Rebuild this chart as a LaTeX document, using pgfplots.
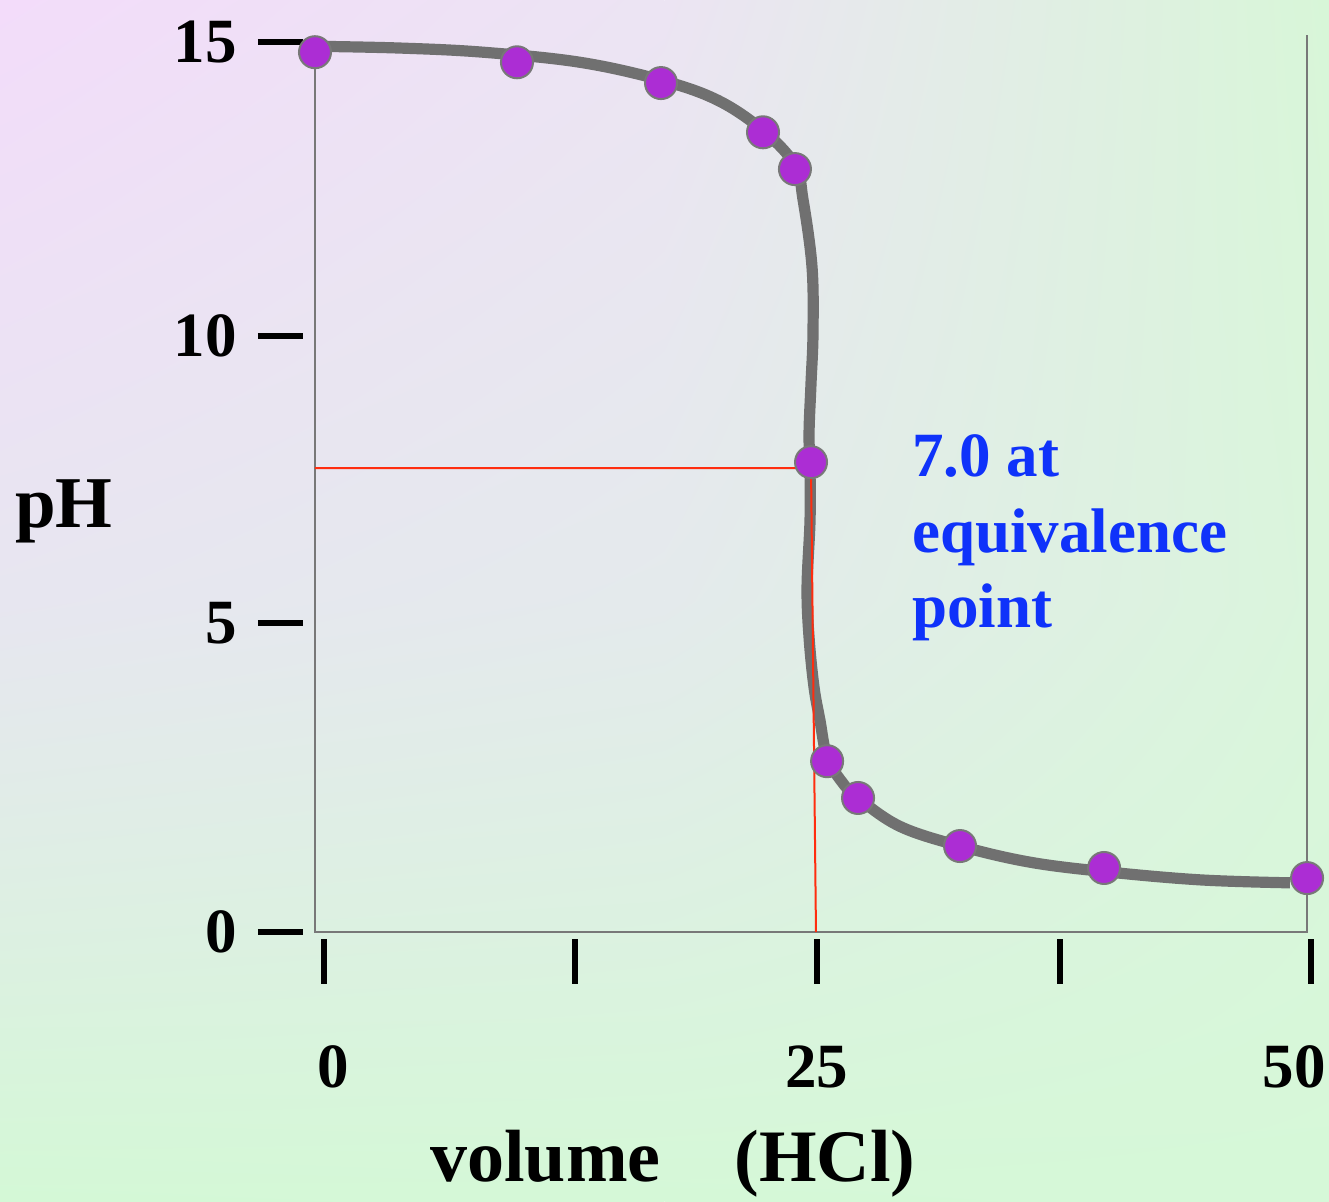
\documentclass[border=0pt]{standalone}
\usepackage{pgfplots}
\pgfplotsset{compat=1.18}
\usetikzlibrary{shadings}
\usepackage{fontspec}
\setmainfont{Liberation Serif}
\definecolor{cTL}{RGB}{243,220,250}
\definecolor{cTM}{RGB}{236,228,243}
\definecolor{cTR}{RGB}{216,246,216}
\definecolor{cML}{RGB}{231,230,240}
\definecolor{cMM}{RGB}{228,234,236}
\definecolor{cMR}{RGB}{218,245,220}
\definecolor{cBL}{RGB}{212,248,214}
\definecolor{cBM}{RGB}{213,248,215}
\definecolor{cBR}{RGB}{214,248,216}
\definecolor{curvegray}{RGB}{112,112,112}
\definecolor{framegray}{RGB}{120,120,120}
\definecolor{ptfill}{RGB}{172,45,212}
\definecolor{redline}{RGB}{255,45,15}
\definecolor{bluetxt}{RGB}{15,50,250}
\begin{document}
\begin{tikzpicture}
% background gradient in four bilinear patches
\shade[upper left=cTL, upper right=cTM, lower left=cML, lower right=cMM]
  (-157.5pt,168.75pt) rectangle (174.75pt,469pt);
\shade[upper left=cTM, upper right=cTR, lower left=cMM, lower right=cMR]
  (174.75pt,168.75pt) rectangle (507pt,469pt);
\shade[upper left=cML, upper right=cMM, lower left=cBL, lower right=cBM]
  (-157.5pt,-131.5pt) rectangle (174.75pt,168.75pt);
\shade[upper left=cMM, upper right=cMR, lower left=cBM, lower right=cBR]
  (174.75pt,-131.5pt) rectangle (507pt,168.75pt);
\begin{axis}[
  at={(0,0)}, anchor=south west, scale only axis,
  width=499pt, height=451.5pt,
  xmin=0, xmax=50.3, ymin=-0.1, ymax=15.12,
  axis line style={draw=none},
  clip=false,
  tick align=outside,
  tick pos=left,
  major tick length=22.5pt,
  minor tick num=0,
  xtick={0.45,13.1,25.3,37.55,50.2},
  xticklabels={,,,,},
  xtick style={line width=3pt, black, yshift=-0.5pt},
  ytick={0,5.21,10.05,15},
  yticklabels={0,5,10,15},
  ytick style={line width=3pt, black, xshift=-6pt},
  extra x ticks={0.9,25.3,49.35},
  extra x tick labels={0,25,50},
  extra x tick style={major tick length=0pt, tick style={draw=none}},
  /pgf/number format/assume math mode=true,
  tick label style={font=\fontsize{31.5}{31.5}\selectfont\bfseries, inner sep=0pt},
  yticklabel style={anchor=east, xshift=-16.5pt},
  xticklabel style={anchor=north, yshift=-53.5pt},
]
% frame
\addplot[draw=framegray, line width=1pt] coordinates {(0,14.85) (0,0) (50,0) (50,15.12)};
% titration curve
\addplot[draw=curvegray, line width=5.6pt, smooth, tension=0.6] coordinates {
(0,14.93) (4.28,14.90) (8.47,14.83) (13.36,14.66) (17.44,14.36)
(20.3,14.02) (22.58,13.51) (24.19,12.93) (24.6,12.34) (25.05,11.21)
(25.1,10.10) (25.0,9.25) (24.9,8.41) (24.95,7.79) (24.95,6.94) (24.8,5.81)
(24.9,4.97) (25.15,4.13) (25.45,3.57) (25.81,2.95) (26.56,2.53) (27.37,2.26)
(29.49,1.78) (32.51,1.45) (36.0,1.18) (39.77,1.02) (44.6,0.88) (49.14,0.83)};
% measured points
\addplot[only marks, mark=*, mark size=8pt,
  mark options={fill=ptfill, draw=framegray, line width=1pt}] coordinates {
(0,14.83) (10.18,14.66) (17.44,14.31) (22.58,13.48) (24.19,12.86) (25.0,7.92)
(25.81,2.88) (27.37,2.26) (32.51,1.45) (39.77,1.08) (50,0.91)};
% equivalence guide lines
\addplot[draw=redline, line width=1pt] coordinates {(0,7.82) (25.0,7.82) (25.25,0)};
\end{axis}
\node[anchor=base west, inner sep=0pt, font=\fontsize{36.5}{36.5}\selectfont\bfseries] at (-150pt,205pt) {pH};
\node[anchor=base west, inner sep=0pt, font=\fontsize{37}{37}\selectfont\bfseries] at (57.5pt,-121.5pt) {volume\hspace{37pt}(HCl)};
\node[anchor=base west, inner sep=0pt, text=bluetxt, font=\fontsize{31.5}{31.5}\selectfont\bfseries] at (298.5pt,230.5pt) {7.0 at};
\node[anchor=base west, inner sep=0pt, text=bluetxt, font=\fontsize{31.5}{31.5}\selectfont\bfseries] at (298.5pt,192.5pt) {equivalence};
\node[anchor=base west, inner sep=0pt, text=bluetxt, font=\fontsize{31.5}{31.5}\selectfont\bfseries] at (298.5pt,155pt) {point};
\pgfresetboundingbox
\path[use as bounding box] (-157.5pt,-131.5pt) rectangle (507pt,469pt);
\end{tikzpicture}
\end{document}
